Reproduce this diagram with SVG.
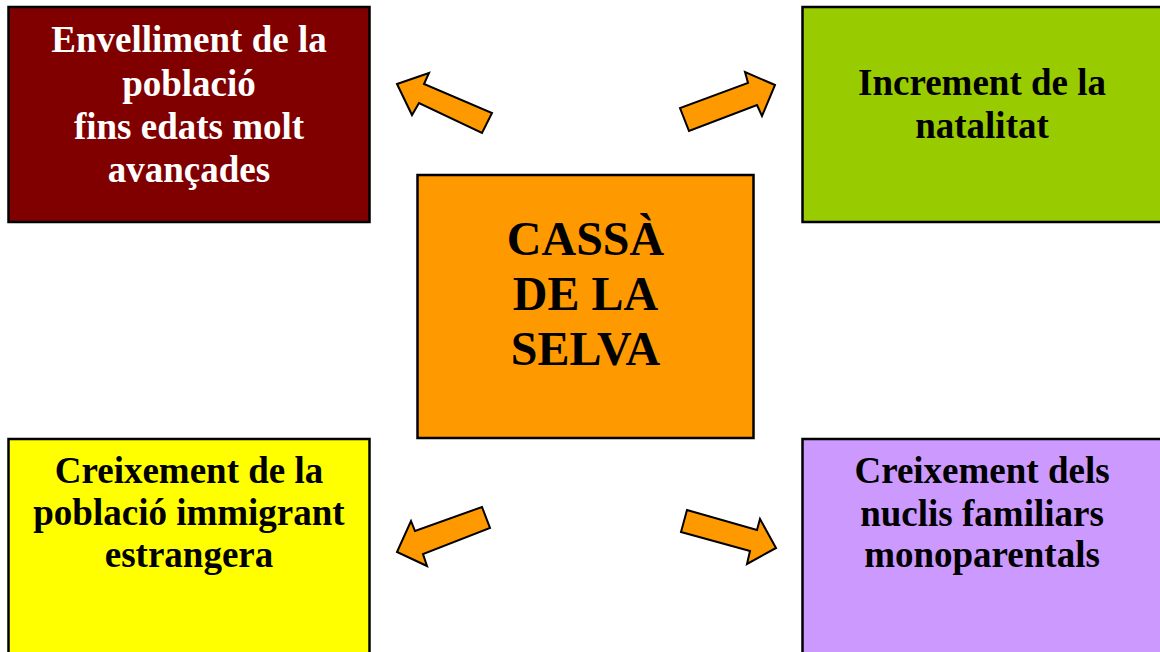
<svg xmlns="http://www.w3.org/2000/svg" width="1160" height="652" viewBox="0 0 1160 652">
<style>
.box{stroke:#000;stroke-width:2.5}
.t{font-family:"Liberation Serif","Times New Roman",serif;font-weight:bold;font-size:37px;text-anchor:middle}
.big{font-size:48px}
.arrow{fill:#FF9900;stroke:#000;stroke-width:2;stroke-linejoin:miter}
</style>
<rect width="1160" height="652" fill="#fff"/>
<g id="node-envelliment">
<rect class="box" x="8.5" y="7" width="361" height="215" fill="#800000"/>
<text class="t" fill="#fff"><tspan x="189" y="52">Envelliment de la</tspan><tspan x="189" y="95.5">població</tspan><tspan x="189" y="139">fins edats molt</tspan><tspan x="189" y="182">avançades</tspan></text>
</g>
<g id="node-natalitat">
<rect class="box" x="802.5" y="7" width="360" height="215" fill="#99CC00"/>
<text class="t" fill="#000"><tspan x="982" y="95">Increment de la</tspan><tspan x="982" y="138">natalitat</tspan></text>
</g>
<g id="node-center">
<rect class="box" x="417.5" y="175" width="336" height="263" fill="#FF9900"/>
<text class="t big" fill="#000"><tspan x="585.5" y="255">CASSÀ</tspan><tspan x="585.5" y="310">DE LA</tspan><tspan x="585.5" y="365">SELVA</tspan></text>
</g>
<g id="node-immigrant">
<rect class="box" x="8.5" y="439" width="361" height="220" fill="#FFFF00"/>
<text class="t" fill="#000"><tspan x="189" y="483">Creixement de la</tspan><tspan x="189" y="525">població immigrant</tspan><tspan x="189" y="567">estrangera</tspan></text>
</g>
<g id="node-monoparentals">
<rect class="box" x="802.5" y="439" width="360" height="220" fill="#CC99FF"/>
<text class="t" fill="#000"><tspan x="982" y="483">Creixement dels</tspan><tspan x="982" y="526">nuclis familiars</tspan><tspan x="982" y="567">monoparentals</tspan></text>
</g>
<g id="connectors">
<polygon class="arrow" points="397,84 429,73 424,84 492,113 482,133 419,103 412,115"/>
<polygon class="arrow" points="775,85 745,72 748,83 680,108 689,131 757,105 762,116"/>
<polygon class="arrow" points="397,552 411,521 415,531 482,507 490,528 423,554 427,566"/>
<polygon class="arrow" points="776,548 760,519 757,530 687,510 681,532 750,551 747,564"/>
</g>
</svg>
